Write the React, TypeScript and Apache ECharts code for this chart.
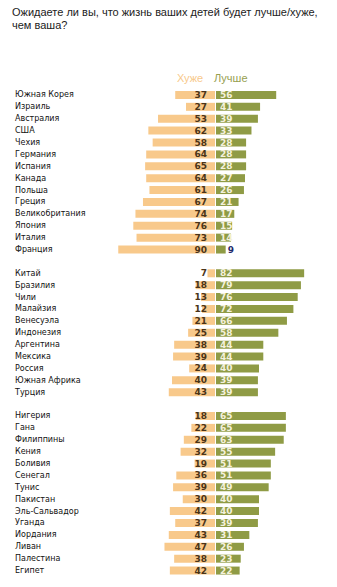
import React, { useEffect, useRef } from "react";
import * as echarts from "echarts";

const title = "Ожидаете ли вы, что жизнь ваших детей будет лучше/хуже,\nчем ваша?";
const legendWorse = "Хуже";
const legendBetter = "Лучше";

const countries = [
  "Южная Корея", "Израиль", "Австралия", "США", "Чехия", "Германия", "Испания",
  "Канада", "Польша", "Греция", "Великобритания", "Япония", "Италия", "Франция",
  " ",
  "Китай", "Бразилия", "Чили", "Малайзия", "Венесуэла", "Индонезия", "Аргентина",
  "Мексика", "Россия", "Южная Африка", "Турция",
  "  ",
  "Нигерия", "Гана", "Филиппины", "Кения", "Боливия", "Сенегал", "Тунис",
  "Пакистан", "Эль-Сальвадор", "Уганда", "Иордания", "Ливан", "Палестина", "Египет",
];

const worse = [
  37, 27, 53, 62, 58, 64, 65, 64, 61, 67, 74, 76, 73, 90,
  null,
  7, 18, 13, 12, 21, 25, 38, 39, 24, 40, 43,
  null,
  18, 22, 29, 32, 19, 36, 39, 30, 42, 37, 43, 47, 38, 42,
];

const better = [
  56, 41, 39, 33, 28, 28, 28, 27, 26, 21, 17, 15, 14, 9,
  null,
  82, 79, 76, 72, 66, 58, 44, 44, 40, 39, 39,
  null,
  65, 65, 63, 55, 51, 51, 49, 40, 40, 39, 31, 26, 23, 22,
];

const ORANGE = "#F8C98B";
const GREEN = "#8F9B45";

export default function App() {
  const ref = useRef<HTMLDivElement>(null);
  useEffect(() => {
    if (!ref.current) return;
    const chart = echarts.init(ref.current, null, { renderer: "svg" });
    const top = 89;
    const bottom = 10.5;
    const option: any = {
      animation: false,
      backgroundColor: "#ffffff",
      grid: [
        { left: 107.5, width: 107.5, top, bottom },
        { left: 216, width: 107.5, top, bottom },
      ],
      xAxis: [
        { type: "value", gridIndex: 0, min: 0, max: 100, inverse: true, show: false },
        { type: "value", gridIndex: 1, min: 0, max: 100, show: false },
      ],
      yAxis: [
        {
          type: "category",
          gridIndex: 0,
          data: countries,
          inverse: true,
          axisLine: { show: false },
          axisTick: { show: false },
          splitLine: { show: false },
          axisLabel: {
            align: "left",
            margin: 92.5,
            padding: [3, 0, 0, 0],
            fontFamily: "DejaVu Sans",
            fontSize: 8,
            color: "#111111",
          },
        },
        {
          type: "category",
          gridIndex: 1,
          data: countries,
          inverse: true,
          show: false,
        },
      ],
      series: [
        {
          name: legendWorse,
          type: "bar",
          xAxisIndex: 0,
          yAxisIndex: 0,
          barWidth: 8,
          data: worse,
          itemStyle: { color: ORANGE },
          label: {
            show: true,
            position: "insideRight",
            distance: 8,
            color: "#4a3418",
            fontFamily: "DejaVu Sans",
            fontWeight: "bold",
            fontSize: 9,
          },
        },
        {
          name: legendBetter,
          type: "bar",
          xAxisIndex: 1,
          yAxisIndex: 1,
          barWidth: 8,
          data: better.map((v) =>
            v !== null && v < 10
              ? { value: v, label: { position: "right", distance: 2, color: "#1f2a6b" } }
              : v
          ),
          itemStyle: { color: GREEN },
          label: {
            show: true,
            position: "insideLeft",
            distance: 4,
            color: "#f4f1dc",
            fontFamily: "DejaVu Sans",
            fontWeight: "bold",
            fontSize: 9,
          },
        },
      ],
      graphic: [
        {
          type: "text",
          left: 12,
          top: 6,
          style: {
            text: title,
            fontFamily: "Liberation Sans",
            fontSize: 11,
            lineHeight: 12.5,
            fill: "#222222",
          },
        },
        {
          type: "text",
          left: 177,
          top: 72.5,
          style: { text: legendWorse, fontFamily: "Liberation Sans", fontSize: 11, fill: ORANGE },
        },
        {
          type: "text",
          left: 214,
          top: 72.5,
          style: { text: legendBetter, fontFamily: "Liberation Sans", fontSize: 11, fill: "#97A050" },
        },
      ],
    };
    chart.setOption(option);
    return () => chart.dispose();
  }, []);
  return (
    <div
      ref={ref}
      style={{ position: "fixed", left: 0, top: 0, width: 337, height: 587 }}
    />
  );
}
